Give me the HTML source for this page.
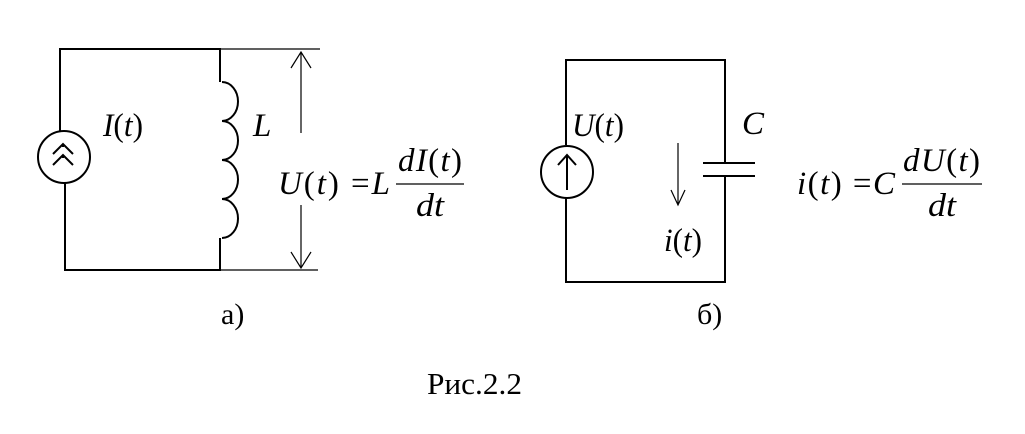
<!DOCTYPE html>
<html><head><style>
body{margin:0;background:#fff}
svg text{font-family:"Liberation Serif",serif;fill:#000}
.i{font-style:italic}
</style></head><body>
<svg width="1025" height="429" viewBox="0 0 1025 429" xmlns="http://www.w3.org/2000/svg">
<g stroke="#000" fill="none" stroke-width="2">
<polyline points="60,131 60,49 220,49 220,82"/>
<polyline points="65,183 65,270 220,270 220,238"/>
<circle cx="64" cy="157" r="26"/>
<path d="M53,154 L63,144 L73,154 M53,165 L63,155 L73,165 M63,144 L63,147 M63,155 L63,158"/>
<path d="M222,82 A16,19.5 0 0 1 222,121 A16,19.5 0 0 1 222,160 A16,19.5 0 0 1 222,199 A16,19.5 0 0 1 222,238"/>
<polyline points="566,145 566,60 725,60 725,163"/>
<polyline points="566,198 566,282 725,282 725,176"/>
<circle cx="567" cy="172" r="26"/>
<path d="M567,190 L567,155 M558,165 L567,155 L576,165"/>
<line x1="703" y1="163" x2="755" y2="163"/>
<line x1="703" y1="176" x2="755" y2="176"/>
</g>
<g stroke="#000" fill="none" stroke-width="1.2">
<line x1="220" y1="49" x2="320" y2="49"/>
<line x1="220" y1="270" x2="318" y2="270"/>
<path d="M301,133 L301,52 M291,68 L301,52 L311,68"/>
<path d="M301,205 L301,268 M291,252 L301,268 L311,252"/>
<path d="M678,143 L678,205 M671,190 L678,205 L685,190"/>
<line x1="396" y1="184" x2="464" y2="184"/>
<line x1="902" y1="184" x2="982" y2="184"/>
</g>
<g font-size="33">
<text x="103" y="136" textLength="40" lengthAdjust="spacingAndGlyphs"><tspan class="i">I</tspan>(<tspan class="i">t</tspan>)</text>
<text x="253" y="136" class="i">L</text>
<text x="278" y="194" textLength="112" lengthAdjust="spacing"><tspan class="i">U</tspan>(<tspan class="i">t</tspan>) =<tspan class="i">L</tspan></text>
<text x="398" y="171" textLength="64" lengthAdjust="spacing"><tspan class="i">dI</tspan>(<tspan class="i">t</tspan>)</text>
<text x="416" y="216" class="i" textLength="28" lengthAdjust="spacingAndGlyphs">dt</text>
<text x="572" y="136" textLength="52" lengthAdjust="spacingAndGlyphs"><tspan class="i">U</tspan>(<tspan class="i">t</tspan>)</text>
<text x="742" y="134" class="i">C</text>
<text x="664" y="251" textLength="38" lengthAdjust="spacingAndGlyphs"><tspan class="i">i</tspan>(<tspan class="i">t</tspan>)</text>
<text x="797" y="194" textLength="98" lengthAdjust="spacing"><tspan class="i">i</tspan>(<tspan class="i">t</tspan>) =<tspan class="i">C</tspan></text>
<text x="903" y="171" textLength="77" lengthAdjust="spacing"><tspan class="i">dU</tspan>(<tspan class="i">t</tspan>)</text>
<text x="928" y="216" class="i" textLength="28" lengthAdjust="spacingAndGlyphs">dt</text>
<text x="221" y="324" font-size="30">а)</text>
<text x="697" y="324" font-size="30">б)</text>
<text x="427" y="394" font-size="31" textLength="95" lengthAdjust="spacingAndGlyphs">Рис.2.2</text>
</g>
</svg>
</body></html>
